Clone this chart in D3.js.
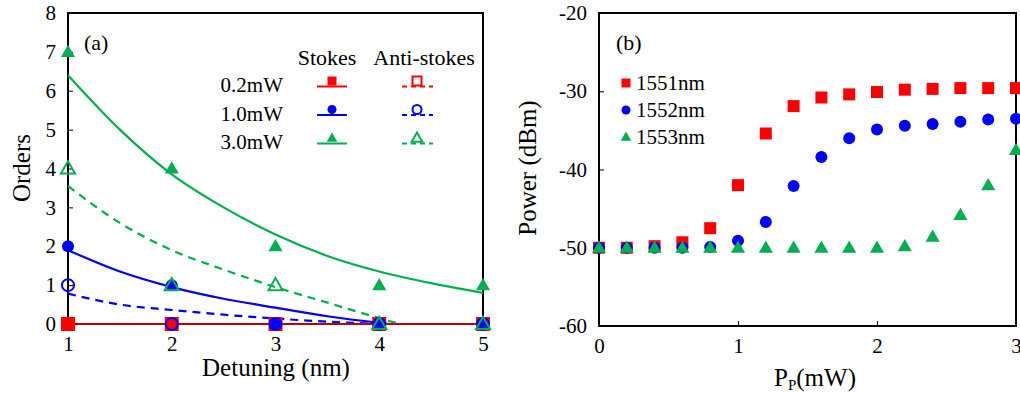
<!DOCTYPE html>
<html>
<head>
<meta charset="utf-8">
<script src="https://d3js.org/d3.v7.min.js"></script>
<style>
    body { margin: 0; background: #fff; }
    svg text { font-family: "Liberation Serif", "Times New Roman", serif; fill: #000; }
</style>
</head>
<body>
<svg id="chart" width="1020" height="393"></svg>
<script>
// ---- panel (a) data ----
let detuning = [1, 2, 3, 4, 5];
let stokes02 = [0, 0, 0, 0, 0];
let anti02 = [0, 0, 0, 0, 0];
let stokes10 = [2, 1, 0, 0, 0];
let anti10 = [1, 0, 0, 0, 0];
let stokes30 = [7, 4, 2, 1, 1];
let anti30 = [4, 1, 1, 0, 0];

// fitted curves
let fitStokes02X = [1, 5];
let fitStokes02Y = [0, 0];
let fitStokes10X = [1, 1.5, 2, 2.5, 3, 3.5, 4, 4.1];
let fitStokes10Y = [1.9, 1.35, 0.95, 0.65, 0.42, 0.2, 0.03, 0];
let fitAnti10X = [1, 1.5, 2, 2.5, 3, 3.5, 4];
let fitAnti10Y = [0.78, 0.5, 0.36, 0.24, 0.14, 0.06, 0];
let fitStokes30X = [1, 1.5, 2, 2.5, 3, 3.5, 4, 4.5, 5];
let fitStokes30Y = [6.4, 5.0, 3.85, 3.0, 2.3, 1.75, 1.35, 1.05, 0.8];
let fitAnti30X = [1, 1.5, 2, 2.5, 3, 3.5, 4, 4.2];
let fitAnti30Y = [3.55, 2.6, 1.9, 1.4, 0.95, 0.55, 0.15, 0];

let ordersTicks = [0, 1, 2, 3, 4, 5, 6, 7, 8];
let detuningTicks = [1, 2, 3, 4, 5];
let powerLabels = ["0.2mW", "1.0mW", "3.0mW"];

// ---- panel (b) data ----
let pump = [0, 0.2, 0.4, 0.6, 0.8, 1.0, 1.2, 1.4, 1.6, 1.8, 2.0, 2.2, 2.4, 2.6, 2.8, 3.0];
let p1551 = [-50, -50, -49.8, -49.3, -47.5, -42.0, -35.4, -31.9, -30.8, -30.4, -30.1, -29.8, -29.7, -29.6, -29.6, -29.6];
let p1552 = [-50, -50, -50, -50, -49.9, -49.1, -46.7, -42.1, -38.4, -36.0, -34.9, -34.4, -34.2, -33.9, -33.6, -33.5];
let p1553 = [-50, -50, -50, -50, -50, -50, -50, -50, -50, -50, -50, -49.8, -48.6, -45.8, -42.0, -37.5];
let waveLabels = ["1551nm", "1552nm", "1553nm"];
let powerTicks = [-20, -30, -40, -50, -60];
let pumpTicks = [0, 1, 2, 3];

const RED = "#ff0000", BLUE = "#0000ff", GREEN = "#00b050";
const SERIF = "'Liberation Serif', 'Times New Roman', serif";

let svg = d3.select("#chart");

// marker helper: kind = square | circle | triangle
function marker(g, kind, cx, cy, size, color, filled) {
    let sym = kind === "square" ? d3.symbolSquare : kind === "circle" ? d3.symbolCircle : d3.symbolTriangle;
    let area = kind === "square" ? size * size : kind === "circle" ? Math.PI * size * size / 4 : size * size * 0.6;
    let dy = kind === "triangle" ? size * 0.08 : 0;
    g.append("path")
        .attr("d", d3.symbol().type(sym).size(area)())
        .attr("transform", `translate(${cx},${cy + dy})`)
        .attr("fill", filled ? color : "none")
        .attr("stroke", color)
        .attr("stroke-width", filled ? 0 : 2);
}

function styleTicks(g) {
    g.select(".domain").remove();
    g.selectAll("text").attr("font-size", 21).style("font-family", SERIF);
}

// ================= panel (a) =================
let xa = d3.scaleLinear().domain([1, 5]).range([68, 483]);
let ya = d3.scaleLinear().domain([0, 8]).range([324, 13]);

let ga = svg.append("g");

ga.append("rect")
    .attr("x", xa(1)).attr("y", ya(8))
    .attr("width", xa(5) - xa(1)).attr("height", ya(0) - ya(8))
    .attr("fill", "none").attr("stroke", "#000").attr("stroke-width", 2);

ga.append("g")
    .attr("transform", `translate(${xa(1)},0)`)
    .call(d3.axisLeft(ya).tickValues(ordersTicks).tickSize(-5).tickPadding(12).tickFormat(d => String(d)))
    .call(styleTicks);

ga.append("g")
    .attr("transform", `translate(0,${ya(0)})`)
    .call(d3.axisBottom(xa).tickValues(detuningTicks).tickSize(0).tickPadding(12).tickFormat(d => String(d)))
    .call(styleTicks);

let lineA = d3.line().x(d => xa(d[0])).y(d => ya(d[1])).curve(d3.curveMonotoneX);
let fits = [
    [fitStokes30X, fitStokes30Y, GREEN, null],
    [fitAnti30X, fitAnti30Y, GREEN, "8,6"],
    [fitStokes10X, fitStokes10Y, BLUE, null],
    [fitAnti10X, fitAnti10Y, BLUE, "8,6"],
    [fitStokes02X, fitStokes02Y, RED, null]
];
fits.forEach(f => {
    ga.append("path")
        .attr("d", lineA(d3.zip(f[0], f[1])))
        .attr("fill", "none")
        .attr("stroke", f[2])
        .attr("stroke-width", f[2] === RED ? 1.5 : 2.2)
        .attr("stroke-dasharray", f[3]);
});

let seriesA = [
    [stokes02, "square", RED, true],
    [anti02, "square", RED, false],
    [stokes10, "circle", BLUE, true],
    [anti10, "circle", BLUE, false],
    [stokes30, "triangle", GREEN, true],
    [anti30, "triangle", GREEN, false]
];
seriesA.forEach(s => {
    s[0].forEach((v, i) => marker(ga, s[1], xa(detuning[i]), ya(v), 12, s[2], s[3]));
});

ga.append("text").attr("x", 84).attr("y", 50).attr("font-size", 22).text("(a)");

ga.append("text").attr("x", 327).attr("y", 65).attr("font-size", 22).attr("text-anchor", "middle").text("Stokes");
ga.append("text").attr("x", 424).attr("y", 65).attr("font-size", 22).attr("text-anchor", "middle").text("Anti-stokes");

let legKinds = [["square", RED], ["circle", BLUE], ["triangle", GREEN]];
powerLabels.forEach((lab, i) => {
    let ty = 85 + i * 28.5;
    ga.append("text").attr("x", 283).attr("y", ty + 7).attr("font-size", 21).attr("text-anchor", "end").text(lab);
    let ly = ty + 1.5;
    ga.append("line").attr("x1", 317).attr("x2", 347).attr("y1", ly).attr("y2", ly)
        .attr("stroke", legKinds[i][1]).attr("stroke-width", 2);
    marker(ga, legKinds[i][0], 332, ly - 5.5, 9, legKinds[i][1], true);
    ga.append("line").attr("x1", 402).attr("x2", 433).attr("y1", ly).attr("y2", ly)
        .attr("stroke", legKinds[i][1]).attr("stroke-width", 2).attr("stroke-dasharray", "5,4");
    marker(ga, legKinds[i][0], 417, ly - 5.5, 9, legKinds[i][1], false);
});

ga.append("text")
    .attr("transform", "translate(30,168) rotate(-90)")
    .attr("font-size", 25).attr("text-anchor", "middle").text("Orders");
ga.append("text")
    .attr("x", 276).attr("y", 376)
    .attr("font-size", 25).attr("text-anchor", "middle").text("Detuning (nm)");

// ================= panel (b) =================
let xb = d3.scaleLinear().domain([0, 3]).range([599, 1016]);
let yb = d3.scaleLinear().domain([-60, -20]).range([326, 13]);

let gb = svg.append("g");

gb.append("rect")
    .attr("x", xb(0)).attr("y", yb(-20))
    .attr("width", xb(3) - xb(0)).attr("height", yb(-60) - yb(-20))
    .attr("fill", "none").attr("stroke", "#000").attr("stroke-width", 2);

gb.append("g")
    .attr("transform", `translate(${xb(0)},0)`)
    .call(d3.axisLeft(yb).tickValues(powerTicks).tickSize(-5).tickPadding(12).tickFormat(d => String(d)))
    .call(styleTicks);

gb.append("g")
    .attr("transform", `translate(0,${yb(-60)})`)
    .call(d3.axisBottom(xb).tickValues(pumpTicks).tickSize(-5).tickPadding(12).tickFormat(d => String(d)))
    .call(styleTicks);

let seriesB = [
    [p1551, "square", RED],
    [p1552, "circle", BLUE],
    [p1553, "triangle", GREEN]
];
seriesB.forEach(s => {
    s[0].forEach((v, i) => marker(gb, s[1], xb(pump[i]), yb(v), 12, s[2], true));
});

gb.append("text").attr("x", 616).attr("y", 50).attr("font-size", 22).text("(b)");

waveLabels.forEach((lab, i) => {
    let ty = 83 + i * 27;
    marker(gb, seriesB[i][1], 626, ty, 9, seriesB[i][2], true);
    gb.append("text").attr("x", 636).attr("y", ty + 7).attr("font-size", 21).text(lab);
});

gb.append("text")
    .attr("transform", "translate(536,168) rotate(-90)")
    .attr("font-size", 25).attr("text-anchor", "middle").text("Power (dBm)");

let xt = gb.append("text").attr("x", 815).attr("y", 386).attr("font-size", 25).attr("text-anchor", "middle");
xt.append("tspan").text("P");
xt.append("tspan").attr("font-size", 15).attr("dy", 4).text("P");
xt.append("tspan").attr("dy", -4).text("(mW)");
</script>
</body>
</html>
